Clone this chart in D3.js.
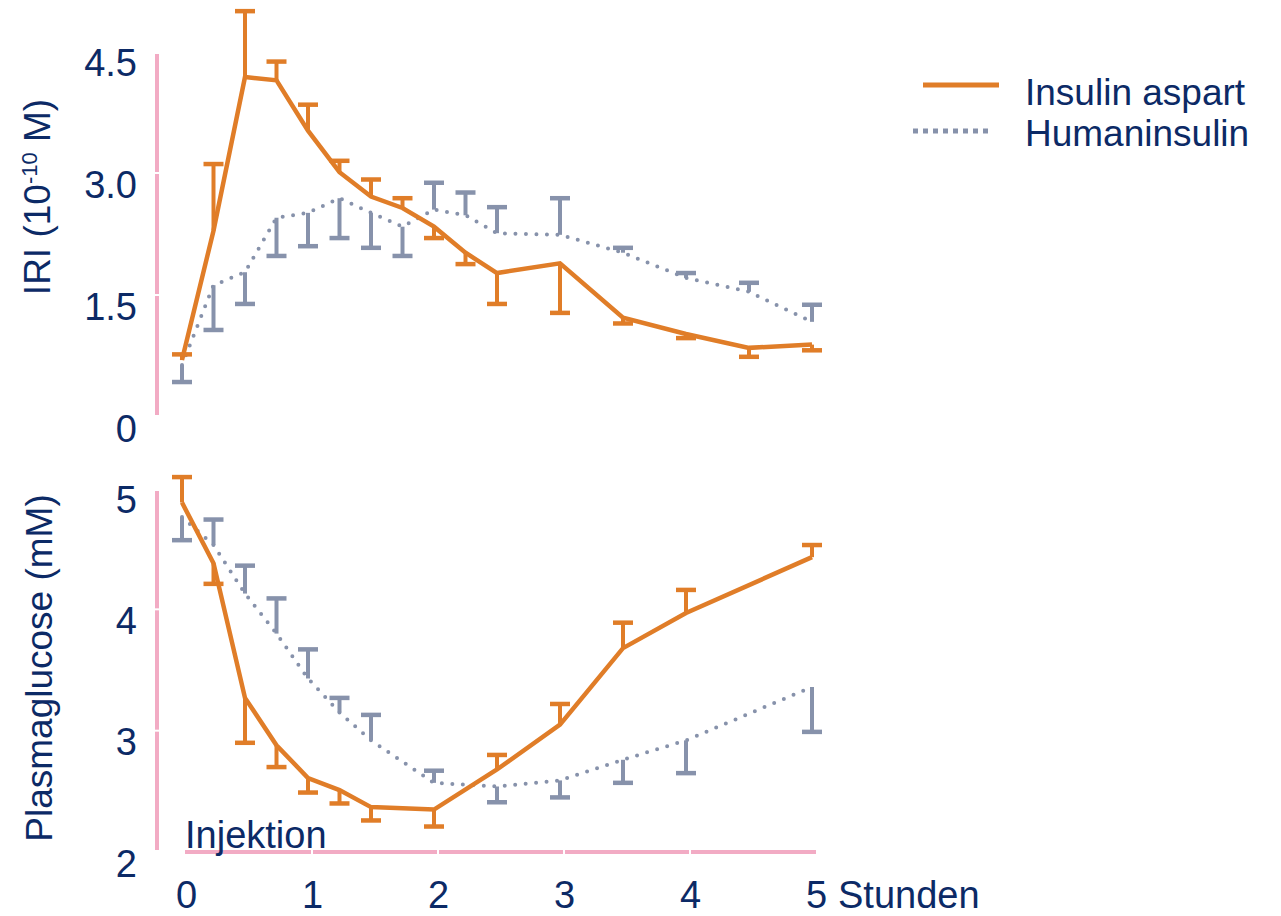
<!DOCTYPE html>
<meta charset="utf-8">
<style>
body { margin: 0; background: #fff; }
text { font-family: "Liberation Sans", Arial, sans-serif; fill: #0c2a66; }
.axis-line { stroke: #f2abc4; stroke-width: 4; fill: none; }
.gap { stroke: #fff; stroke-width: 2; }
.aspart { stroke: #e07d28; fill: none; }
.human { stroke: #8792ab; fill: none; }
</style>
<svg width="1281" height="916"></svg>
<script src="https://d3js.org/d3.v7.min.js"></script>
<script>

// IRI panel (10^-10 M)
var iriTimes = [0, 0.25, 0.5, 0.75, 1, 1.25, 1.5, 1.75, 2, 2.25, 2.5, 3, 3.5, 4, 4.5, 5];
var iriAspart = [0.70, 2.29, 4.18, 4.14, 3.52, 3.01, 2.71, 2.57, 2.34, 2.02, 1.77, 1.89, 1.22, 1.02, 0.85, 0.89];
var iriAspartErr = [0.07, 0.82, 0.81, 0.23, 0.32, 0.14, 0.21, 0.12, -0.14, -0.14, -0.38, -0.61, -0.07, -0.05, -0.11, -0.07];
var iriHuman = [0.64, 1.62, 1.78, 2.45, 2.51, 2.69, 2.51, 2.34, 2.55, 2.48, 2.26, 2.24, 2.02, 1.71, 1.54, 1.17];
var iriHumanErr = [-0.21, -0.55, -0.39, -0.47, -0.41, -0.49, -0.43, -0.36, 0.33, 0.28, 0.32, 0.45, 0.06, 0.06, 0.11, 0.21];

// Plasmaglucose panel (mM)
var gluTimes = [0, 0.25, 0.5, 0.75, 1, 1.25, 1.5, 2, 2.5, 3, 3.5, 4, 5];
var gluAspart = [4.88, 4.38, 3.27, 2.88, 2.61, 2.51, 2.37, 2.35, 2.68, 3.05, 3.68, 3.97, 4.43];
var gluAspartErr = [0.21, -0.17, -0.37, -0.18, -0.12, -0.11, -0.11, -0.14, 0.12, 0.17, 0.21, 0.19, 0.10];
var gluHuman = [4.76, 4.53, 4.13, 3.80, 3.43, 3.15, 2.92, 2.57, 2.54, 2.59, 2.76, 2.92, 3.36];
var gluHumanErr = [-0.19, 0.21, 0.23, 0.29, 0.24, 0.12, 0.21, 0.10, -0.13, -0.14, -0.19, -0.27, -0.37];

// ticks
var iriTicks = [0, 1.5, 3, 4.5];
var iriTickLabels = ["0", "1.5", "3.0", "4.5"];
var gluTicks = [2, 3, 4, 5];
var gluTickLabels = ["2", "3", "4", "5"];
var hourTicks = [0, 1, 2, 3, 4, 5];
var hourTickLabels = ["0", "1", "2", "3", "4", "5"];

var svg = d3.select("svg");

var x = d3.scaleLinear().domain([0, 5]).range([182, 812]);
var yIri = d3.scaleLinear().domain([0, 4.5]).range([417, 51]);
var yGlu = d3.scaleLinear().domain([2, 5]).range([852, 488]);

// pink axis lines with small white gaps at inner ticks
function yAxisLine(y, ticks) {
  var g = svg.append("g");
  g.append("line").attr("class", "axis-line")
      .attr("x1", 157).attr("x2", 157)
      .attr("y1", y(y.domain()[0]) - 2).attr("y2", y(y.domain()[1]) + 3);
  g.selectAll(".gap")
    .data(ticks.slice(1, -1))
    .enter().append("line").attr("class", "gap")
      .attr("x1", 153).attr("x2", 161)
      .attr("y1", function(d) { return y(d); })
      .attr("y2", function(d) { return y(d); });
}
yAxisLine(yIri, iriTicks);
yAxisLine(yGlu, gluTicks);

var xg = svg.append("g");
xg.append("line").attr("class", "axis-line")
    .attr("x1", x(0) + 3).attr("x2", x(5) + 4)
    .attr("y1", 852).attr("y2", 852);
xg.selectAll(".gap")
  .data(hourTicks.slice(1, -1))
  .enter().append("line").attr("class", "gap")
    .attr("x1", function(d) { return x(d) + 4; })
    .attr("x2", function(d) { return x(d) + 4; })
    .attr("y1", 848).attr("y2", 856);

// tick labels
function yLabels(y, ticks, labels) {
  var g = svg.append("g")
      .attr("transform", "translate(137,12)")
      .call(d3.axisLeft(y).tickValues(ticks).tickSize(0).tickPadding(0)
        .tickFormat(function(d, i) { return labels[i]; }));
  g.select(".domain").remove();
  g.selectAll("text").attr("font-size", 38).attr("font-family", null).attr("fill", null);
}
yLabels(yIri, iriTicks, iriTickLabels);
yLabels(yGlu, gluTicks, gluTickLabels);

var xa = svg.append("g")
    .attr("transform", "translate(4,852)")
    .call(d3.axisBottom(x).tickValues(hourTicks).tickSize(0)
      .tickFormat(function(d, i) { return hourTickLabels[i]; }));
xa.select(".domain").remove();
xa.selectAll("text")
    .attr("y", 56).attr("dy", 0)
    .attr("font-size", 38).attr("font-family", null).attr("fill", null);

svg.append("text")
    .attr("x", x(5) + 26).attr("y", 908)
    .attr("font-size", 38)
    .text("Stunden");

svg.append("text")
    .attr("x", 185).attr("y", 848)
    .attr("font-size", 38)
    .text("Injektion");

// axis titles
var t1 = svg.append("text")
    .attr("transform", "translate(50,197) rotate(-90)")
    .attr("text-anchor", "middle")
    .attr("font-size", 37);
t1.append("tspan").text("IRI (10");
t1.append("tspan").attr("font-size", 22).attr("dy", -13).text("-10");
t1.append("tspan").attr("dy", 13).text(" M)");

svg.append("text")
    .attr("transform", "translate(52,668) rotate(-90)")
    .attr("text-anchor", "middle")
    .attr("font-size", 37)
    .text("Plasmaglucose (mM)");

// series
function series(times, vals, errs, y, cls) {
  var pts = times.map(function(t, i) { return {t: t, v: vals[i], e: errs[i]}; });
  var g = svg.append("g").attr("class", cls);
  var line = d3.line()
      .x(function(d) { return x(d.t); })
      .y(function(d) { return y(d.v); });
  g.append("path")
      .datum(pts)
      .attr("d", line)
      .attr("stroke-width", cls == "aspart" ? 4.5 : 4)
      .attr("stroke-linecap", cls == "aspart" ? "butt" : "round")
      .attr("stroke-dasharray", cls == "aspart" ? null : "0,10.5");
  var bars = g.selectAll(".err").data(pts).enter().append("g");
  bars.append("line")
      .attr("x1", function(d) { return x(d.t); })
      .attr("x2", function(d) { return x(d.t); })
      .attr("y1", function(d) { return y(d.v); })
      .attr("y2", function(d) { return y(d.v + d.e); })
      .attr("stroke-width", 4);
  bars.append("line")
      .attr("x1", function(d) { return x(d.t) - 10; })
      .attr("x2", function(d) { return x(d.t) + 10; })
      .attr("y1", function(d) { return y(d.v + d.e); })
      .attr("y2", function(d) { return y(d.v + d.e); })
      .attr("stroke-width", 4.5);
}
series(iriTimes, iriHuman, iriHumanErr, yIri, "human");
series(iriTimes, iriAspart, iriAspartErr, yIri, "aspart");
series(gluTimes, gluHuman, gluHumanErr, yGlu, "human");
series(gluTimes, gluAspart, gluAspartErr, yGlu, "aspart");

// legend
var lg = svg.append("g");
lg.append("line").attr("class", "aspart")
    .attr("x1", 923).attr("x2", 999).attr("y1", 85).attr("y2", 85)
    .attr("stroke-width", 5);
lg.append("line").attr("class", "human")
    .attr("x1", 913).attr("x2", 993).attr("y1", 131).attr("y2", 131)
    .attr("stroke-width", 5).attr("stroke-dasharray", "5,5");
lg.append("text").attr("x", 1025).attr("y", 105).attr("font-size", 37).text("Insulin aspart");
lg.append("text").attr("x", 1025).attr("y", 146).attr("font-size", 37).text("Humaninsulin");

</script>
